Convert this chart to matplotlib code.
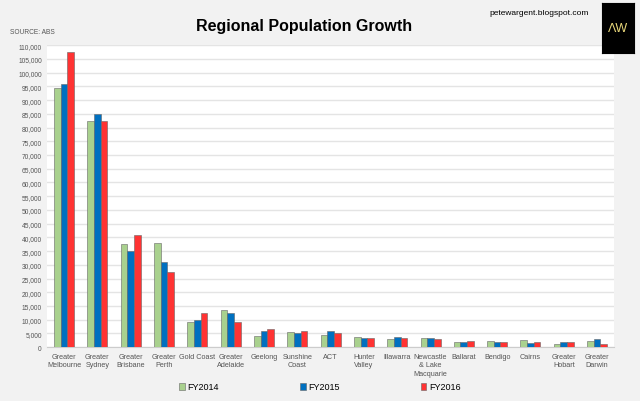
import matplotlib
matplotlib.use("Agg")
import matplotlib.pyplot as plt
import numpy as np

plt.rcParams['font.family'] = ['Liberation Sans', 'DejaVu Sans']

regions = ["Greater\nMelbourne", "Greater\nSydney", "Greater\nBrisbane", "Greater\nPerth",
           "Gold Coast", "Greater\nAdelaide", "Geelong", "Sunshine\nCoast", "ACT",
           "Hunter\nValley", "Illawarra", "Newcastle\n& Lake\nMacquarie", "Ballarat",
           "Bendigo", "Cairns", "Greater\nHobart", "Greater\nDarwin"]
fy2014 = [94500, 82500, 37500, 38000, 9000, 13500, 4200, 5400, 4400, 3600, 2800, 3500, 1800, 2100, 2500, 1100, 2100]
fy2015 = [96000, 85000, 35000, 31000, 9800, 12300, 5700, 5300, 5900, 3400, 3600, 3300, 1800, 2000, 1600, 1700, 2900]
fy2016 = [107500, 82500, 41000, 27200, 12300, 9300, 6700, 5800, 5000, 3200, 3200, 3000, 2300, 2000, 2000, 1700, 1100]

fig = plt.figure(figsize=(6.4, 4.02), dpi=100, facecolor='#f2f2f2')
ax = fig.add_axes([0.074, 0.134, 0.885, 0.751])
ax.set_facecolor('white')

x = np.arange(len(regions))
w = 0.2
series = [(fy2014, '#a9d18e', 'FY2014'), (fy2015, '#0070c0', 'FY2015'), (fy2016, '#ff3333', 'FY2016')]
for i, (vals, col, lab) in enumerate(series):
    ax.bar(x + (i - 1) * w, vals, w, color=col, edgecolor='#666666', linewidth=0.4, label=lab, zorder=3)

ax.set_ylim(0, 110000)
ax.set_xlim(-0.5, len(regions) - 0.5)
ax.set_yticks(np.arange(0, 110001, 5000))
ax.set_yticklabels([f"{v:,}" for v in range(0, 110001, 5000)], fontsize=4.8, color='#555555')
ax.set_xticks(x)
ax.set_xticklabels(regions, fontsize=5.2, color='#555555', linespacing=1.3)
ax.yaxis.grid(True, color='#e4e4e4', linewidth=1, zorder=0)
ax.tick_params(length=0, pad=4)
for s in ['top', 'right', 'left']:
    ax.spines[s].set_visible(False)
ax.spines['bottom'].set_color('#cccccc')

fig.legend(loc='center', bbox_to_anchor=(0.5, 0.035), ncol=3, frameon=False,
           fontsize=6.5, handlelength=0.6, handleheight=0.9, columnspacing=9, handletextpad=0.3)

fig.text(0.475, 0.935, "Regional Population Growth", ha='center', va='center',
         fontsize=11.5, fontweight='bold')
fig.text(0.016, 0.92, "SOURCE: ABS", fontsize=4.8, color='#555555', va='center')
fig.text(0.92, 0.975, "petewargent.blogspot.com", fontsize=6, ha='right', va='top')
logo = fig.add_axes([0.94, 0.865, 0.05, 0.125])
logo.set_facecolor('black')
logo.set_xticks([]); logo.set_yticks([])
logo.text(0.5, 0.5, "ΛW", color='#e8d77a', ha='center', va='center', fontsize=9, transform=logo.transAxes)

fig.savefig("out.png", dpi=100, facecolor=fig.get_facecolor())
